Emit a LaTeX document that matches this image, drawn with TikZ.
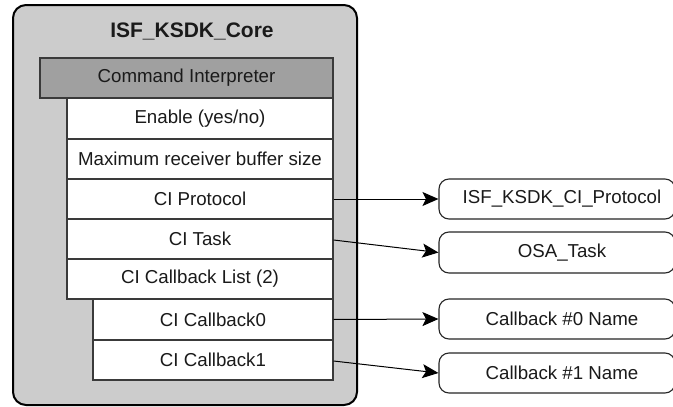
\documentclass[tikz,border=0pt]{standalone}
\usepackage{fontspec}
\setmainfont{Liberation Sans}
\usetikzlibrary{arrows.meta}
\definecolor{outerfill}{HTML}{CCCCCC}
\definecolor{headfill}{HTML}{A0A0A0}
\definecolor{edgegray}{HTML}{3A3A3A}
\definecolor{txt}{HTML}{1A1A1A}
\tikzset{
  rowbox/.style={draw=edgegray, line width=1.1pt, fill=white, minimum width=266pt, minimum height=40pt, inner sep=0pt, text=txt, font=\fontsize{18.7}{22}\selectfont},
  headbox/.style={rowbox, fill=headfill, minimum width=293pt},
  cbbox/.style={rowbox, minimum width=240pt},
  refbox/.style={draw=black!85, line width=1.1pt, fill=white, rounded corners=10pt, minimum width=236pt, minimum height=40pt, inner sep=0pt, text=txt, font=\fontsize{18.7}{22}\selectfont},
  link/.style={draw=black, line width=1pt, -{Stealth[length=16pt,width=14pt,inset=3.5pt]}}
}
\begin{document}
\begin{tikzpicture}[x=1pt,y=-1pt]
\useasboundingbox (0,0) rectangle (673,407);
% outer container
\draw[fill=outerfill, draw=black, line width=2pt, rounded corners=13pt] (13,5) rectangle (357,405);
\node[font=\bfseries\fontsize{21}{25}\selectfont, text=txt] (title) at (192,31) {ISF\_KSDK\_Core};
% header
\node[headbox] (ci) at (186.5,78) {Command Interpreter};
% rows
\node[rowbox, minimum height=41pt] (en) at (200,118.5) {Enable (yes/no)};
\node[rowbox] (mx) at (200,159) {Maximum receiver buffer size};
\node[rowbox] (prot) at (200,199) {CI Protocol};
\node[rowbox] (task) at (200,239) {CI Task};
\node[rowbox] (cbl) at (200,279) {CI Callback List (2)};
\node[cbbox, minimum height=41pt] (cb0) at (213,319.5) {CI Callback0};
\node[cbbox] (cb1) at (213,360) {CI Callback1};
% referenced objects
\node[refbox] (isf) at (557,199) {\hspace*{10pt}ISF\_KSDK\_CI\_Protocol};
\node[refbox, minimum height=41pt] (osa) at (557,252.5) {\hspace*{10pt}OSA\_Task};
\node[refbox] (n0) at (557,319) {\hspace*{10pt}Callback \#0 Name};
\node[refbox] (n1) at (557,373) {\hspace*{10pt}Callback \#1 Name};
% connectors
\draw[link] (prot.east) -- (isf.west);
\draw[link] ([yshift=-1pt]task.east) -- (osa.west);
\draw[link] (cb0.east) -- (n0.west);
\draw[link] ([yshift=-1pt]cb1.east) -- (n1.west);
\end{tikzpicture}
\end{document}
